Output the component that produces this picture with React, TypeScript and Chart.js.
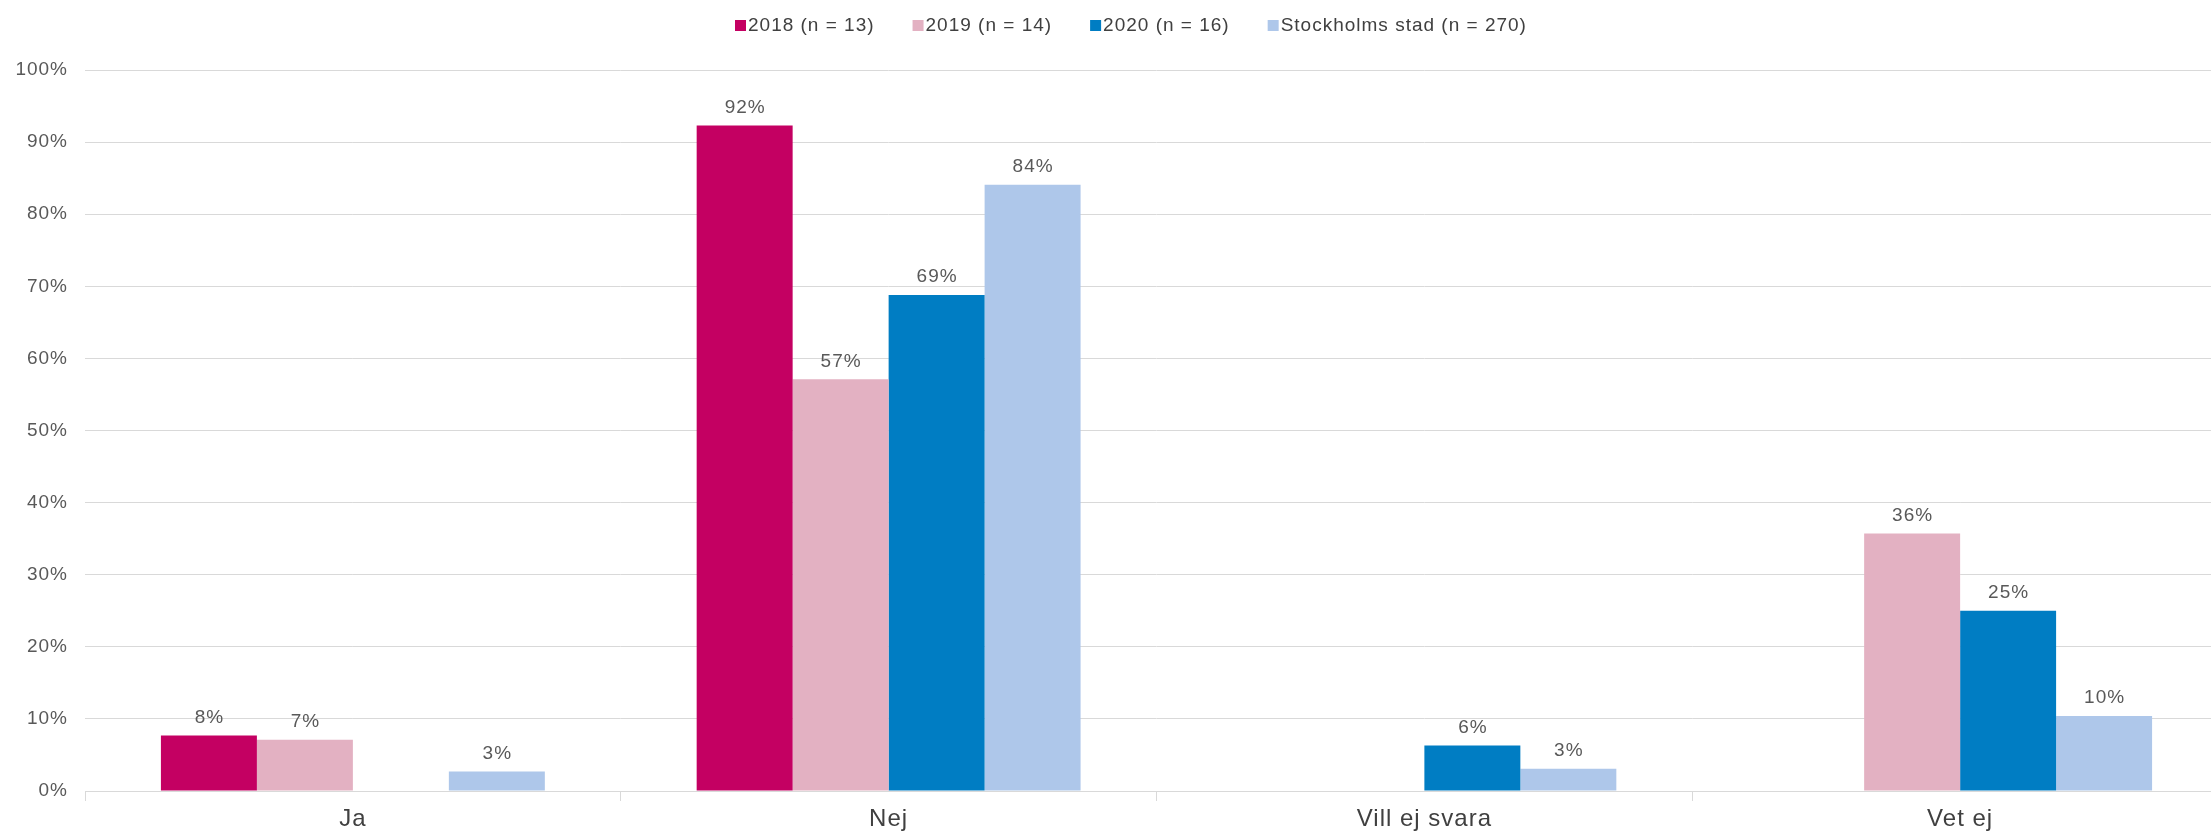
import React, { useEffect, useRef } from "react";
import { Chart, registerables } from "chart.js";

Chart.register(...registerables);

const categories = ["Ja", "Nej", "Vill ej svara", "Vet ej"];
const seriesLabels = ["2018 (n = 13)", "2019 (n = 14)", "2020 (n = 16)", "Stockholms stad (n = 270)"];
const values2018 = [7.7, 92.3, null, null];
const values2019 = [7.1, 57.1, null, 35.7];
const values2020 = [null, 68.8, 6.3, 25];
const valuesStockholm = [2.7, 84.1, 3.1, 10.4];
const seriesColors = ["#C40062", "#E3B1C2", "#007DC3", "#AEC7EA"];
const yTicks = [0, 10, 20, 30, 40, 50, 60, 70, 80, 90, 100];

const FONT = "'Liberation Sans', Arial, sans-serif";

export default function App() {
  const ref = useRef<HTMLCanvasElement | null>(null);

  useEffect(() => {
    if (!ref.current) return;
    const allValues = [values2018, values2019, values2020, valuesStockholm];

    const spacingPlugin = {
      id: "spacing",
      beforeLayout(chart: any) {
        chart.ctx.letterSpacing = "1px";
      },
      beforeDraw(chart: any) {
        chart.ctx.letterSpacing = "1px";
      },
    };

    const labelsPlugin = {
      id: "valueLabels",
      afterDatasetsDraw(chart: any) {
        const ctx = chart.ctx;
        ctx.save();
        ctx.letterSpacing = "1px";
        ctx.font = `19px ${FONT}`;
        ctx.fillStyle = "#595959";
        ctx.textAlign = "center";
        ctx.textBaseline = "middle";
        chart.data.datasets.forEach((ds: any, di: number) => {
          const meta = chart.getDatasetMeta(di);
          meta.data.forEach((el: any, i: number) => {
            const v = ds.data[i];
            if (v === null || v === undefined) return;
            ctx.fillText(Math.round(v) + "%", el.x + 0.5, el.y - 18);
          });
        });
        ctx.restore();
      },
    };

    const legendPlugin = {
      id: "customLegend",
      afterDraw(chart: any) {
        const ctx = chart.ctx;
        ctx.save();
        ctx.letterSpacing = "1px";
        ctx.font = `19px ${FONT}`;
        ctx.textBaseline = "middle";
        ctx.textAlign = "left";
        let x = 735;
        const cy = 25.5;
        seriesLabels.forEach((lab, i) => {
          ctx.fillStyle = seriesColors[i];
          ctx.fillRect(x, cy - 5.5, 11, 11);
          ctx.fillStyle = "#404040";
          ctx.fillText(lab, x + 13, cy);
          const w = ctx.measureText(lab).width;
          x += 13 + w + 38;
        });
        ctx.restore();
      },
    };

    const chart = new Chart(ref.current, {
      type: "bar",
      data: {
        labels: categories,
        datasets: allValues.map((vals, i) => ({
          label: seriesLabels[i],
          data: vals,
          backgroundColor: seriesColors[i],
          borderWidth: 0,
          categoryPercentage: 0.7166,
          barPercentage: 1,
        })),
      },
      options: {
        animation: false,
        responsive: false,
        devicePixelRatio: 1,
        layout: { padding: { top: 70, right: 2, left: 0, bottom: 0 } },
        plugins: {
          legend: { display: false },
          tooltip: { enabled: false },
        },
        scales: {
          x: {
            offset: true,
            grid: {
              display: true,
              drawOnChartArea: false,
              drawTicks: true,
              tickLength: 10,
              color: "#D9D9D9",
              offset: true,
            },
            border: { display: true, color: "#D9D9D9" },
            ticks: {
              padding: 4,
              color: "#404040",
              font: { family: FONT, size: 24 },
            },
            afterFit(scale: any) {
              scale.height = 41;
            },
          },
          y: {
            min: 0,
            max: 100,
            afterBuildTicks(scale: any) {
              scale.ticks = yTicks.map((v) => ({ value: v }));
            },
            grid: { color: "#D9D9D9", drawTicks: false, lineWidth: 1 },
            border: { display: false },
            ticks: {
              padding: 17,
              color: "#595959",
              font: { family: FONT, size: 19 },
              callback: (v: any) => v + "%",
            },
            afterFit(scale: any) {
              scale.width = 85;
            },
          },
        },
      },
      plugins: [spacingPlugin, labelsPlugin, legendPlugin],
    } as any);

    return () => chart.destroy();
  }, []);

  return (
    <div
      style={{
        position: "fixed",
        left: 0,
        top: 0,
        width: 2211,
        height: 832,
        overflow: "hidden",
        background: "#fff",
      }}
    >
      <canvas ref={ref} width={2230} height={832} style={{ width: 2230, height: 832, display: "block" }} />
    </div>
  );
}
